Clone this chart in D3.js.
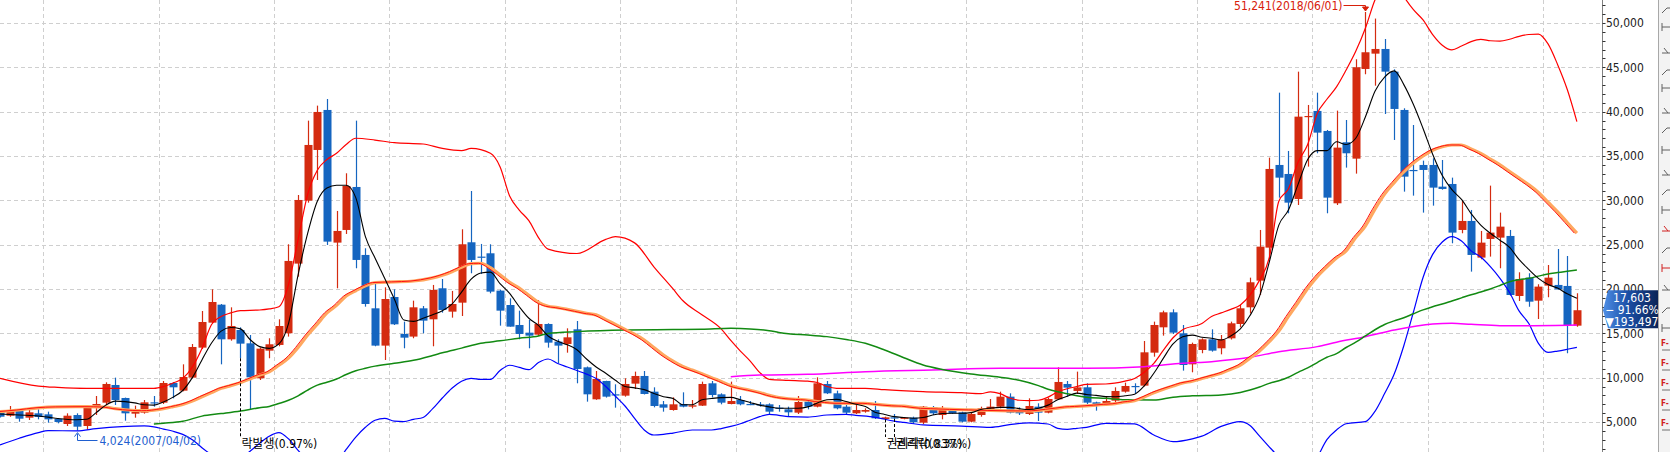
<!DOCTYPE html>
<html><head><meta charset="utf-8">
<script src="https://cdn.jsdelivr.net/npm/d3@7"></script>
<style>
html,body{margin:0;padding:0;background:#fff;overflow:hidden}
svg{display:block}
text{font-family:"DejaVu Sans Condensed","DejaVu Sans","Noto Sans CJK KR",sans-serif;font-stretch:condensed}
</style></head><body>
<svg id="c" width="1670" height="452"></svg>
<script>
const months = ("2006/08 2006/09 2006/10 2006/11 2006/12 " +
"2007/01 2007/02 2007/03 2007/04 2007/05 2007/06 2007/07 2007/08 2007/09 2007/10 2007/11 2007/12 " +
"2008/01 2008/02 2008/03 2008/04 2008/05 2008/06 2008/07 2008/08 2008/09 2008/10 2008/11 2008/12 " +
"2009/01 2009/02 2009/03 2009/04 2009/05 2009/06 2009/07 2009/08 2009/09 2009/10 2009/11 2009/12 " +
"2010/01 2010/02 2010/03 2010/04 2010/05 2010/06 2010/07 2010/08 2010/09 2010/10 2010/11 2010/12 " +
"2011/01 2011/02 2011/03 2011/04 2011/05 2011/06 2011/07 2011/08 2011/09 2011/10 2011/11 2011/12 " +
"2012/01 2012/02 2012/03 2012/04 2012/05 2012/06 2012/07 2012/08 2012/09 2012/10 2012/11 2012/12 " +
"2013/01 2013/02 2013/03 2013/04 2013/05 2013/06 2013/07 2013/08 2013/09 2013/10 2013/11 2013/12 " +
"2014/01 2014/02 2014/03 2014/04 2014/05 2014/06 2014/07 2014/08 2014/09 2014/10 2014/11 2014/12 " +
"2015/01 2015/02 2015/03 2015/04 2015/05 2015/06 2015/07 2015/08 2015/09 2015/10 2015/11 2015/12 " +
"2016/01 2016/02 2016/03 2016/04 2016/05 2016/06 2016/07 2016/08 2016/09 2016/10 2016/11 2016/12 " +
"2017/01 2017/02 2017/03 2017/04 2017/05 2017/06 2017/07 2017/08 2017/09 2017/10 2017/11 2017/12 " +
"2018/01 2018/02 2018/03 2018/04 2018/05 2018/06 2018/07 2018/08 2018/09 2018/10 2018/11 2018/12 " +
"2019/01 2019/02 2019/03 2019/04 2019/05 2019/06 2019/07 2019/08 2019/09 2019/10 2019/11 2019/12 " +
"2020/01 2020/02 2020/03 2020/04").split(" ");

const open = [6160,5708,6238,5483,5975,
5862,5336,4772,5783,4546,6652,7178,9172,7705,5937,6050,7216,
7178,9398,8532,9999,13383,16203,18231,14322,15374,13871,9924,13045,
13687,15006,22861,29964,35680,40192,25229,26657,31505,23839,17819,13611,
19096,14924,14630,17819,16579,20079,17443,18457,25267,23651,24025,19814,
18193,15939,15073,14849,16052,14059,13797,15450,11164,7555,9624,8118,
7968,9323,10188,8419,6991,6351,7028,6727,6840,9360,8118,7028,
7479,7028,6991,6991,6615,6427,6050,7291,6727,9285,8231,6727,
5975,6163,6351,5336,5524,5374,5486,4925,6652,5785,6351,6088,
5035,5785,6351,6727,7856,6276,5900,6727,6050,7555,9285,8500,
8911,7216,6915,7404,8419,9059,9097,12818,15675,17368,15000,11502,
13119,14322,13310,14434,16052,17932,20943,24664,33988,32972,30151,39437,
40079,37822,29664,36547,34700,44815,46543,47071,44513,40192,33424,33988,
33988,31543,31844,26657,27672,23538,25642,25793,25981,19209,21277,18683,
20380,20455,20342,15863];
const high = [6250,6802,6351,6351,6426,
6160,5449,5975,5975,6850,7930,9473,9999,7750,6840,7479,7930,
9623,9500,11502,13797,17518,19963,18306,17932,15675,14811,13400,14441,
16579,25042,30603,38986,40680,41431,28800,33050,38986,24589,20643,20191,
19964,16316,18683,18080,20455,21126,19777,26733,31054,25079,25042,19900,
18945,17556,16504,18758,16127,14322,15563,16391,11250,10752,9650,9247,
9924,10677,10752,8908,7366,7780,8344,7479,9548,9624,8231,9548,
7930,7366,7254,7103,6915,6727,7930,7555,10036,9624,8532,6915,
7103,6539,7366,5599,5900,5524,5599,6803,6803,6803,6539,6163,
6050,6727,7592,8419,8231,6652,7667,7103,7742,11164,9624,10677,
9361,7291,7856,8908,9436,9361,14134,16316,17556,17707,15939,13948,
14435,15450,14811,16316,18200,21277,26657,34813,42142,35567,44513,40755,
42142,37935,40117,39060,45911,51241,50500,48198,44777,40380,38498,34475,
34739,34550,32558,29926,28912,26545,31656,28612,26657,21883,21770,20530,
22711,24513,23726,19511];
const low = [5500,5595,5031,5219,5298,
4918,4847,4546,4024,4130,5783,6915,6915,5144,5483,5937,6727,
7028,7667,8457,9924,13232,16128,11502,14171,12186,6426,9736,12186,
13536,14630,21389,29738,32295,24965,20079,26206,22335,18005,13536,11991,
15939,13310,14441,15006,13536,17331,16767,16955,21770,21694,19511,15863,
15751,14328,13310,14698,13384,11618,12815,9361,7291,7500,7750,6615,
7856,8720,8100,6652,6163,6276,6652,6539,6800,7780,6991,6991,
6878,6900,6727,5785,6163,5672,5900,6426,6650,8150,6426,5900,
5900,6050,5336,5299,5336,5299,4775,4775,5785,5299,5900,4963,
4963,5599,6240,6539,5975,5785,5785,5111,5975,7479,7856,8156,
7028,6276,6850,7254,8306,8231,9000,12366,14736,14924,10790,10602,
12750,12930,12630,14300,15675,17255,19322,23350,30302,28537,29475,33800,
35305,28537,29475,33688,33011,44218,42930,39737,36808,30979,30528,28612,
29400,31200,25154,26281,21957,23350,23651,22335,19250,18645,18005,16617,
19059,19900,12750,15751];
const close = [5595,6272,5370,6088,5560,
5298,4998,5708,4470,6802,7028,9285,7479,5975,6160,7216,7103,
9398,8908,10070,13458,16277,18532,14322,15826,13834,10036,13270,13762,
15826,23162,30039,36244,39966,25341,26545,31618,23275,18306,13611,18870,
16015,14510,17932,16429,19890,17632,18306,25042,23275,23538,19701,17556,
15751,14924,14736,16052,13948,13610,14547,10976,8118,9850,7856,8043,
9285,10188,8156,6803,6615,6991,6727,6878,9285,8043,7178,7366,
6991,6953,6916,6163,6502,6088,7254,6727,9360,8231,6539,6050,
6351,6351,5411,5524,5449,5486,4963,6727,5975,6351,5975,5035,
5900,6539,6727,7856,6050,5975,6803,6050,7592,9511,8871,8900,
7178,6991,7366,8495,9059,8984,12856,15939,17368,15073,11427,13797,
14322,13045,14322,16128,17820,20755,24776,33537,32558,29738,39437,39512,
37634,30302,35944,35305,45009,46700,47071,44513,40305,32671,33311,33424,
31430,31280,26357,27672,23839,25229,26357,27033,19322,21126,18570,20267,
21277,19964,15939,17603];

const ma5 = [["2006/08",5900],["2006/10",5790],["2006/12",5680],["2007/01",5550],["2007/02",5400],["2007/04",5250],["2007/05",5300],["2007/06",6050],["2007/07",6900],["2007/08",7350],["2007/09",7300],["2007/10",7150],["2007/11",6950],["2007/12",6900],
["2008/01",7250],["2008/02",7800],["2008/03",8550],["2008/04",10000],["2008/05",12000],["2008/06",13900],["2008/07",15250],["2008/08",15650],["2008/09",15500],["2008/10",14300],["2008/11",13500],["2008/12",13300],
["2009/01",13800],["2009/02",16100],["2009/03",21600],["2009/04",26300],["2009/05",29900],["2009/06",31400],["2009/07",31700],["2009/08",31700],["2009/09",30300],["2009/10",25900],["2009/11",23500],["2009/12",21200],
["2010/01",18900],["2010/02",16500],["2010/03",16350],["2010/04",16700],["2010/05",17100],["2010/06",17550],["2010/07",18300],["2010/08",19650],["2010/09",21100],["2010/10",21800],["2010/11",21900],["2010/12",20600],
["2011/01",19500],["2011/02",18000],["2011/03",16700],["2011/04",15900],["2011/05",14700],["2011/06",14100],["2011/07",13700],["2011/08",13150],["2011/09",12100],["2011/10",11200],["2011/11",10500],["2011/12",9700],
["2012/01",9000],["2012/02",8850],["2012/03",8650],["2012/04",8200],["2012/05",7850],["2012/06",7650],["2012/07",6950],["2012/08",6950],["2012/09",7500],["2012/10",7650],["2012/11",7750],["2012/12",7770],
["2013/01",7500],["2013/02",7200],["2013/03",6900],["2013/04",6700],["2013/05",6550],["2013/06",6540],["2013/07",6550],["2013/08",6700],["2013/09",7150],["2013/10",7500],["2013/11",7550],["2013/12",7300],
["2014/01",7000],["2014/02",6750],["2014/03",6100],["2014/04",5850],["2014/05",5600],["2014/06",5500],["2014/07",5420],["2014/08",5500],["2014/09",5780],["2014/10",5950],["2014/11",5980],["2014/12",5980],
["2015/01",6050],["2015/02",6400],["2015/03",6560],["2015/04",6650],["2015/05",6650],["2015/06",6500],["2015/07",6400],["2015/08",6540],["2015/09",6900],["2015/10",7500],["2015/11",7900],["2015/12",8250],
["2016/01",8100],["2016/02",8000],["2016/03",7860],["2016/04",7850],["2016/05",7950],["2016/06",8130],["2016/07",9060],["2016/08",10490],["2016/09",12200],["2016/10",13800],["2016/11",14600],["2016/12",14800],
["2017/01",14550],["2017/02",14450],["2017/03",14250],["2017/04",14700],["2017/05",15500],["2017/06",17000],["2017/07",19200],["2017/08",23000],["2017/09",27200],["2017/10",28900],["2017/11",31800],["2017/12",34600],
["2018/01",35600],["2018/02",35600],["2018/03",36600],["2018/04",36300],["2018/05",37000],["2018/06",39400],["2018/07",42300],["2018/08",43900],["2018/09",44600],["2018/10",43050],["2018/11",40800],["2018/12",38100],
["2019/01",35200],["2019/02",32800],["2019/03",31200],["2019/04",30100],["2019/05",28500],["2019/06",27200],["2019/07",26280],["2019/08",25500],["2019/09",24700],["2019/10",23300],["2019/11",22200],["2019/12",21200],
["2020/01",20500],["2020/02",20100],["2020/03",19450],["2020/04",18950]];

const ma20 = [["2006/08",6160],["2006/10",6350],["2006/12",6600],["2007/02",6700],["2007/05",6727],["2007/07",6680],["2007/08",6500],["2007/09",6380],["2007/11",6270],["2007/12",6330],
["2008/01",6500],["2008/02",6730],["2008/03",6980],["2008/04",7350],["2008/05",7850],["2008/06",8320],["2008/07",8800],["2008/08",9100],["2008/09",9430],["2008/10",9850],["2008/11",10300],["2008/12",10650],
["2009/01",11400],["2009/02",12200],["2009/03",13400],["2009/04",14800],["2009/05",16030],["2009/06",17300],["2009/07",18150],["2009/08",19200],["2009/09",19800],["2009/10",20350],["2009/11",20720],
["2010/01",20800],["2010/03",20900],["2010/05",21250],["2010/06",21550],["2010/07",21950],["2010/08",22450],["2010/09",22850],["2010/10",22900],["2010/11",22400],["2010/12",21600],
["2011/01",20750],["2011/02",20100],["2011/03",19300],["2011/04",18500],["2011/05",18050],["2011/06",17900],["2011/07",17700],["2011/08",17480],["2011/09",17250],["2011/10",17080],["2011/11",16550],["2011/12",16000],
["2012/01",15450],["2012/02",14900],["2012/03",14250],["2012/04",13400],["2012/05",12550],["2012/06",11850],["2012/07",11250],["2012/08",10850],["2012/09",10450],["2012/10",10000],["2012/11",9570],["2012/12",9100],
["2013/01",8800],["2013/02",8580],["2013/03",8320],["2013/04",8000],["2013/05",7760],["2013/06",7620],["2013/07",7540],["2013/08",7480],["2013/09",7300],["2013/10",7200],["2013/11",7110],
["2014/02",7105],["2014/03",7000],["2014/04",6900],["2014/05",6820],["2014/06",6780],["2014/07",6650],["2014/08",6540],["2014/09",6500],["2014/11",6420],
["2015/01",6360],["2015/03",6300],["2015/05",6260],["2015/07",6240],["2015/08",6300],["2015/09",6430],["2015/10",6560],["2015/11",6700],["2015/12",6750],
["2016/01",6820],["2016/02",6900],["2016/03",6990],["2016/04",7060],["2016/05",7250],["2016/06",7400],["2016/07",7800],["2016/08",8300],["2016/09",8700],["2016/10",9050],["2016/11",9400],["2016/12",9600],
["2017/01",9900],["2017/02",10200],["2017/03",10500],["2017/04",10950],["2017/05",11420],["2017/06",12200],["2017/07",13000],["2017/08",14050],["2017/09",15250],["2017/10",16900],["2017/11",18450],["2017/12",20050],
["2018/01",21400],["2018/02",22500],["2018/03",23500],["2018/04",24300],["2018/05",25800],["2018/06",27100],["2018/07",29000],["2018/08",30700],["2018/09",32000],["2018/10",33200],["2018/11",34200],["2018/12",35000],
["2019/01",35650],["2019/02",36050],["2019/03",36240],["2019/04",36240],["2019/05",35800],["2019/06",35300],["2019/07",34650],["2019/08",34000],["2019/09",33250],["2019/10",32500],["2019/11",31750],["2019/12",30900],
["2020/01",29800],["2020/02",28700],["2020/03",27500],["2020/04",26300]];

const ma60 = [["2007/12",4774],["2008/01",4860],["2008/03",5080],["2008/05",5660],["2008/07",5950],["2008/09",6250],["2008/11",6600],["2008/12",6750],
["2009/01",7080],["2009/02",7450],["2009/03",7950],["2009/04",8600],["2009/05",9150],["2009/06",9480],["2009/07",9850],["2009/08",10350],["2009/09",10770],["2009/10",11050],["2009/11",11300],
["2010/01",11620],["2010/03",11950],["2010/05",12500],["2010/06",12800],["2010/08",13330],["2010/10",13880],["2010/12",14150],
["2011/02",14450],["2011/04",14700],["2011/05",14990],["2011/08",15190],["2012/01",15370],["2012/06",15420],["2012/09",15450],["2012/12",15560],
["2013/02",15500],["2013/04",15300],["2013/05",15100],["2013/06",14950],["2013/08",14814],["2013/10",14626],["2013/12",14300],
["2014/02",13874],["2014/04",13122],["2014/06",12250],["2014/08",11430],["2014/10",10930],
["2015/01",10415],["2015/04",10040],["2015/06",9700],["2015/08",9100],["2015/09",8700],["2015/10",8400],["2015/11",8180],["2015/12",7950],
["2016/01",7800],["2016/03",7670],["2016/05",7500],["2016/08",7480],["2016/10",7800],["2016/12",7950],
["2017/03",8050],["2017/05",8330],["2017/06",8600],["2017/07",8950],["2017/08",9350],["2017/09",9650],["2017/10",10050],["2017/11",10600],["2017/12",11100],
["2018/01",11700],["2018/02",12300],["2018/03",12700],["2018/04",13400],["2018/05",14000],["2018/06",14700],["2018/07",15400],["2018/08",16000],["2018/09",16400],["2018/10",16750],["2018/11",17200],["2018/12",17640],
["2019/01",18000],["2019/02",18300],["2019/03",18650],["2019/04",19000],["2019/05",19350],["2019/06",19650],["2019/07",20000],["2019/08",20400],["2019/09",20820],["2019/10",21050],["2019/11",21200],["2019/12",21450],
["2020/01",21700],["2020/02",21850],["2020/03",22000],["2020/04",22140]];

const ma120 = [["2012/12",10107],["2013/03",10296],["2013/08",10378],["2014/02",10677],["2014/09",10866],["2015/04",11054],["2016/01",11054],["2016/07",11242],["2016/11",11618],["2017/02",11806],["2017/06",12295],["2017/09",12933],["2018/01",13497],["2018/03",14000],["2018/06",14623],["2018/09",15375],["2019/01",16052],["2019/03",16127],["2019/05",16015],["2019/08",15864],["2019/11",15864],["2020/04",15939]];

const bbUpper = [["2006/08",9926],["2006/12",9050],["2007/02",8900],["2007/05",8795],["2007/12",8795],
["2008/01",9000],["2008/02",9400],["2008/03",9900],["2008/04",11200],["2008/05",13300],["2008/06",16000],["2008/07",16900],["2008/08",17300],["2008/09",17560],["2008/11",17630],["2008/12",17750],
["2009/01",18000],["2009/02",20500],["2009/03",25600],["2009/04",30700],["2009/05",33400],["2009/06",34600],["2009/07",35300],["2009/08",36300],["2009/09",37000],["2009/11",36800],
["2010/01",36500],["2010/04",36350],["2010/06",35850],["2010/08",35600],["2010/09",35850],["2010/11",35300],["2010/12",33800],
["2011/01",30500],["2011/02",28900],["2011/03",27700],["2011/04",25800],["2011/05",24500],["2011/08",24000],["2011/11",25600],["2011/12",25900],
["2012/02",25200],["2012/04",22500],["2012/06",20000],["2012/07",18700],["2012/09",17100],["2012/11",15500],["2012/12",14200],
["2013/01",13000],["2013/02",11900],["2013/03",10600],["2013/04",9814],["2013/06",9700],["2013/08",9600],["2013/09",9450],["2013/10",9000],["2013/11",8800],
["2014/02",8800],["2014/04",8640],["2014/08",8430],["2014/12",8300],["2015/02",8200],["2015/03",8400],["2015/04",8200],["2015/05",7700],["2015/06",7450],["2015/07",7400],["2015/08",7450],["2015/09",7800],["2015/10",8400],["2015/11",8750],["2015/12",9000],
["2016/01",9250],["2016/03",9280],["2016/05",9600],["2016/06",9900],["2016/07",10600],["2016/08",11618],["2016/09",13100],["2016/10",14500],["2016/11",15400],
["2017/01",16100],["2017/02",16900],["2017/03",17300],["2017/04",17700],["2017/05",18192],["2017/06",19300],["2017/07",21000],["2017/08",23500],["2017/09",29900],["2017/10",31300],["2017/11",34300],["2017/12",36300],
["2018/01",39800],["2018/02",41400],["2018/03",42800],["2018/04",44700],["2018/05",46800],["2018/06",49400],["2018/07",52600],["2018/08",54500],["2018/09",55000],["2018/10",53000],["2018/11",51500],["2018/12",50343],
["2019/01",48700],["2019/02",47500],["2019/03",46962],["2019/04",47400],["2019/05",47900],["2019/06",48150],["2019/07",48000],["2019/08",47950],["2019/09",48166],["2019/10",48500],["2019/11",48700],["2019/12",48750],
["2020/01",47639],["2020/02",45300],["2020/03",42500],["2020/04",38878]];

const bbLower = [["2006/08",2403],["2006/10",3159],["2006/12",3800],["2007/01",4016],["2007/04",4000],["2007/06",4250],["2007/11",4550],["2007/12",4450],
["2008/01",4200],["2008/02",3950],["2008/03",3600],["2008/04",3000],["2008/05",2100],["2008/06",1300],["2008/07",800],["2008/08",700],["2008/09",900],["2008/10",1700],["2008/11",2600],["2008/12",3400],
["2009/01",3800],["2009/02",3100],["2009/03",1800],["2009/04",600],["2009/05",-200],["2009/06",-300],["2009/07",400],["2009/08",1900],["2009/09",3300],["2009/10",4400],["2009/11",5200],["2009/12",5400],
["2010/01",5100],["2010/02",5050],["2010/03",5300],["2010/04",5500],["2010/05",6500],["2010/06",7700],["2010/07",8800],["2010/08",9600],["2010/09",9926],["2010/10",9800],["2010/11",9800],["2010/12",10800],
["2011/01",11400],["2011/02",11150],["2011/03",10900],["2011/04",11700],["2011/05",12100],["2011/06",11600],["2011/07",11200],["2011/08",10800],["2011/09",10400],["2011/10",9900],["2011/11",9000],["2011/12",7900],
["2012/01",6800],["2012/02",5400],["2012/03",4100],["2012/04",3529],["2012/05",3600],["2012/06",3750],["2012/08",4096],["2012/10",4096],["2012/11",4250],["2012/12",4500],
["2013/01",4800],["2013/02",5200],["2013/03",5600],["2013/04",5866],["2013/05",5750],["2013/06",5600],["2013/08",5550],["2013/10",5787],["2013/12",5866],
["2014/01",5750],["2014/03",5527],["2014/05",5100],["2014/06",4950],["2014/08",4670],["2014/12",4540],
["2015/03",4400],["2015/05",4700],["2015/07",4900],["2015/09",4772],["2015/10",4287],["2015/11",4171],["2015/12",4286],
["2016/01",4400],["2016/03",4850],["2016/06",4775],["2016/08",3534],["2016/10",2782],["2016/12",3100],
["2017/01",3400],["2017/03",4500],["2017/05",5038],["2017/06",4600],["2017/07",3400],["2017/08",2200],["2017/09",1000],["2017/10",-500],["2017/11",-1500],["2017/12",-800],
["2018/01",1000],["2018/02",3000],["2018/03",4100],["2018/04",4800],["2018/06",5038],["2018/07",6200],["2018/08",8200],["2018/09",10400],["2018/10",13600],["2018/11",17400],["2018/12",21300],
["2019/01",23900],["2019/02",25300],["2019/03",25900],["2019/04",25400],["2019/05",24300],["2019/06",23600],["2019/07",22520],["2019/08",21200],["2019/09",19600],["2019/10",17500],["2019/11",16100],["2019/12",13871],
["2020/01",12856],["2020/02",13000],["2020/03",13200],["2020/04",13420]];

const yTicks = [5000,10000,15000,20000,25000,30000,35000,40000,45000,50000];
const lastInfo = ["17,603", "\u2212 91.66%", "\u25BC193,497"];
const notes = [
  {month:"2007/04", value:4024, text:"4,024(2007/04/02)"},
  {month:"2018/06", value:51241, text:"51,241(2018/06/01)"}
];
const events = [
  {month:"2008/09", text:"락발생(0.97%)"},
  {month:"2014/04", text:"권리락(0.83%)"},
  {month:"2014/05", text:"권리락(0.37%)"}
];

const W = 1670, H = 452, axisX = 1602.5;
const svg = d3.select("#c");
const x = d3.scaleBand().domain(months).range([-4.78, -4.78 + months.length * 9.615]).padding(0);
const cx = m => x(m) + x.bandwidth() / 2;
const y = d3.scaleLinear().domain([0, 50000]).range([466.3, 23.0]);

svg.append("rect").attr("width", W).attr("height", H).attr("fill", "#fff");
svg.append("defs").append("clipPath").attr("id", "plot")
  .append("rect").attr("x", 0).attr("y", 0).attr("width", axisX).attr("height", H);

const g = svg.append("g").attr("clip-path", "url(#plot)");

// grid
g.selectAll(".hg").data(yTicks).join("line")
  .attr("x1", 0).attr("x2", axisX).attr("y1", d => Math.round(y(d)) + 0.5).attr("y2", d => Math.round(y(d)) + 0.5)
  .attr("stroke", "#cfcfcf").attr("stroke-dasharray", "4,3");
g.selectAll(".vg").data(months.filter(m => m.endsWith("/01"))).join("line")
  .attr("x1", d => Math.round(x(d)) + 0.5).attr("x2", d => Math.round(x(d)) + 0.5).attr("y1", 0).attr("y2", H)
  .attr("stroke", "#cfcfcf").attr("stroke-dasharray", "4,3");

// candles
const bw = 8;
const RED = "#d42b10", BLUE = "#1565c0";
const cg = g.append("g");
months.forEach((m, i) => {
  const up = close[i] >= open[i];
  const col = up ? RED : BLUE;
  const xc = Math.round(cx(m)) + 0.5;
  cg.append("line").attr("x1", xc).attr("x2", xc).attr("y1", y(high[i])).attr("y2", y(low[i]))
    .attr("stroke", col).attr("stroke-width", 1.2);
  const top = y(Math.max(open[i], close[i])), bot = y(Math.min(open[i], close[i]));
  cg.append("rect").attr("x", xc - bw / 2).attr("y", top).attr("width", bw).attr("height", Math.max(1.2, bot - top))
    .attr("fill", col);
});

// lines
const lineGen = d3.line().x(d => cx(d[0])).y(d => y(d[1])).curve(d3.curveMonotoneX);
function drawLine(data, color, width, extra) {
  const p = g.append("path").datum(data).attr("d", lineGen)
    .attr("fill", "none").attr("stroke", color).attr("stroke-width", width).attr("stroke-linejoin", "round");
  if (extra) p.attr("transform", extra);
  return p;
}
drawLine(bbLower, "#0000ff", 1.2);
drawLine(bbUpper, "#ff0000", 1.2);
drawLine(ma120, "#ff00ff", 1.5);
drawLine(ma60, "#128a12", 1.5);
drawLine(ma20, "#ffa860", 3.2);
drawLine(ma20, "#ff1010", 1, "translate(-2.5,0)");
drawLine(ma5, "#000000", 1.1);

// annotation: low
{
  const n = notes[0];
  const xa = Math.round(cx(n.month)) + 0.5, ya = y(n.value) + 1;
  const ly = 440.5;
  const blue = "#1f5fcf";
  g.append("path").attr("d", `M${xa},${ya + 2}V${ly}H${xa + 20}`).attr("fill", "none").attr("stroke", blue);
  g.append("path").attr("d", `M${xa - 3},${ya + 5}L${xa},${ya + 1}L${xa + 3},${ya + 5}`).attr("fill", "none").attr("stroke", blue);
  g.append("text").attr("x", xa + 22).attr("y", ly).attr("dy", "0.36em").attr("fill", blue)
    .attr("font-size", 12).text(n.text);
}
// annotation: high
{
  const n = notes[1];
  const xa = Math.round(cx(n.month)) + 0.5, ya = y(n.value) - 1;
  const ly = 5.5;
  const red = "#d8200a";
  g.append("path").attr("d", `M${xa - 22},${ly}H${xa}V${ya}`).attr("fill", "none").attr("stroke", red);
  g.append("path").attr("d", `M${xa - 3},${ya - 4}L${xa},${ya}L${xa + 3},${ya - 4}Z`).attr("fill", red).attr("stroke", red);
  g.append("text").attr("x", xa - 23).attr("y", ly).attr("dy", "0.36em").attr("fill", red)
    .attr("text-anchor", "end").attr("font-size", 12).text(n.text);
}
// events
events.forEach(ev => {
  const i = months.indexOf(ev.month);
  const xa = Math.round(cx(ev.month)) + 0.5;
  g.append("line").attr("x1", xa).attr("x2", xa).attr("y1", y(low[i])).attr("y2", 437)
    .attr("stroke", "#000").attr("stroke-dasharray", "3,2");
  g.append("text").attr("x", xa + 1).attr("y", 444).attr("dy", "0.36em").attr("fill", "#000")
    .attr("font-size", 12).text(ev.text);
});

// right axis
svg.append("line").attr("x1", axisX).attr("x2", axisX).attr("y1", 0).attr("y2", H).attr("stroke", "#808080");
const minor = d3.range(1000, 53000, 1000);
svg.selectAll(".tk").data(minor).join("line")
  .attr("x1", axisX).attr("x2", axisX + 3).attr("y1", d => Math.round(y(d)) + 0.5).attr("y2", d => Math.round(y(d)) + 0.5)
  .attr("stroke", "#333");
svg.selectAll(".tl").data(yTicks).join("text")
  .attr("x", axisX + 3.5).attr("y", d => y(d)).attr("dy", "0.36em").attr("font-size", 12).attr("fill", "#222")
  .text(d => d3.format(",")(d));

// right toolbar
svg.append("rect").attr("x", 1659).attr("y", 0).attr("width", 11).attr("height", H).attr("fill", "#f3f3f3");
svg.append("line").attr("x1", 1658.5).attr("x2", 1658.5).attr("y1", 0).attr("y2", H).attr("stroke", "#a8a8a8");
const icons = [10, 27, 50, 72, 88, 110, 130, 150, 172, 192, 210, 228, 250, 268, 287, 310, 328];
icons.forEach((iy, k) => {
  svg.append("path").attr("d", k % 3 === 0 ? `M1662,${iy + 3}L1667,${iy - 2}L1670,${iy - 2}` : (k % 3 === 1 ? `M1662,${iy - 4}V${iy + 4}M1662,${iy}H1670` : `M1662,${iy + 3}H1670M1664,${iy - 2}L1668,${iy + 3}`))
    .attr("fill", "none").attr("stroke", k === 11 || k === 13 ? "#d02020" : "#606060").attr("stroke-width", 1);
});
[347, 367, 387, 407, 427].forEach(iy => {
  svg.append("text").attr("x", 1661).attr("y", iy - 4).attr("dy", "0.36em").attr("font-size", 8).attr("font-weight", "bold").attr("fill", "#d02020").text("F-");
  svg.append("path").attr("d", `M1662,${iy + 3}H1670`).attr("stroke", "#707070");
});

// last price tag
{
  const yp = y(close[close.length - 1]);
  const defs = svg.select("defs");
  const grad = defs.append("linearGradient").attr("id", "tagg").attr("x1", "0").attr("x2", "1").attr("y1", "0").attr("y2", "0");
  grad.append("stop").attr("offset", "0").attr("stop-color", "#4f8fe6");
  grad.append("stop").attr("offset", "0.45").attr("stop-color", "#1b4fa6");
  grad.append("stop").attr("offset", "1").attr("stop-color", "#0b2356");
  const x0 = 1603, x1 = 1658, t = yp - 20, b = yp + 18;
  svg.append("path").attr("d", `M${x0},${yp}L${x0 + 5},${t}H${x1}V${b}H${x0 + 5}Z`).attr("fill", "url(#tagg)");
  lastInfo.forEach((s, k) => {
    svg.append("text").attr("x", 1632).attr("y", t + 7 + k * 12).attr("dy", "0.36em").attr("text-anchor", "middle")
      .attr("fill", "#fff").attr("font-size", 12).text(s);
  });
}
</script>
</body></html>
